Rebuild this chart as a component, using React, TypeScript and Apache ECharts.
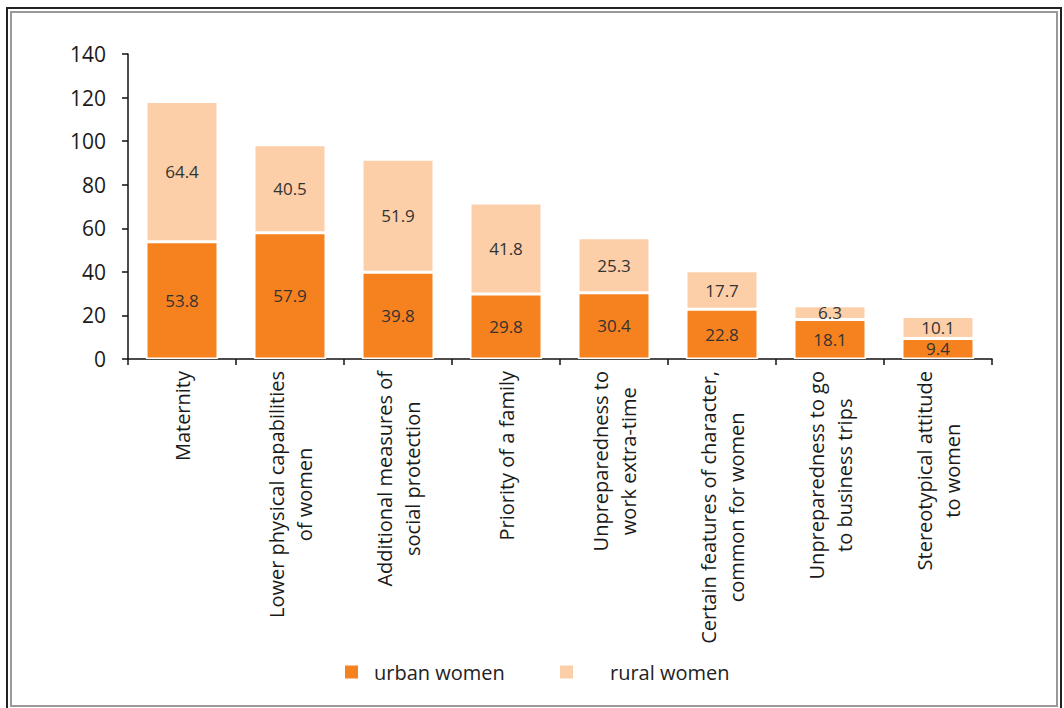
import React, { useEffect, useRef } from "react";
import * as echarts from "echarts";

const categories = [
  "Maternity",
  "Lower physical capabilities\nof women",
  "Additional measures of\nsocial protection",
  "Priority of a family",
  "Unpreparedness to\nwork extra-time",
  "Certain features of character,\ncommon for women",
  "Unpreparedness to go\nto business trips",
  "Stereotypical attitude\nto women",
];
const urbanWomen = [53.8, 57.9, 39.8, 29.8, 30.4, 22.8, 18.1, 9.4];
const ruralWomen = [64.4, 40.5, 51.9, 41.8, 25.3, 17.7, 6.3, 10.1];
const yTicks = [0, 20, 40, 60, 80, 100, 120, 140];

const FONT = "'Open Sans', 'Noto Sans', sans-serif";
const URBAN = "#F6821F";
const RURAL = "#FCCFA8";

export default function App() {
  const ref = useRef<HTMLDivElement>(null);
  useEffect(() => {
    document.body.style.margin = "0";
    const chart = echarts.init(ref.current!, undefined, { renderer: "svg" });
    chart.setOption({
      animation: false,
      backgroundColor: "#ffffff",
      textStyle: { fontFamily: FONT },
      grid: { left: 128, right: 72, top: 54, bottom: 349, containLabel: false },
      legend: [
        {
          data: ["urban women"],
          left: 338,
          top: 657,
          icon: "rect",
          itemWidth: 15,
          itemHeight: 15,
          textStyle: { fontSize: 20, color: "#222", fontFamily: FONT, padding: [0, 0, 0, 10] },
        },
        {
          data: ["rural women"],
          left: 553,
          top: 657,
          icon: "rect",
          itemWidth: 15,
          itemHeight: 15,
          textStyle: { fontSize: 20, color: "#222", fontFamily: FONT, padding: [0, 0, 0, 31] },
        },
      ],
      xAxis: {
        type: "category",
        data: categories,
        axisLine: { lineStyle: { color: "#111", width: 1.5 } },
        axisTick: { show: true, length: 6, lineStyle: { color: "#111", width: 1.5 } },
        axisLabel: {
          rotate: 90,
          margin: 12,
          interval: 0,
          formatter: (v: string) =>
            v
              .split("\n")
              .map((l) => `{c|${l}}`)
              .join("\n"),
          rich: {
            c: { align: "center", fontSize: 20, lineHeight: 28, color: "#1a1a1a", fontFamily: FONT },
          },
        },
      },
      yAxis: {
        type: "value",
        min: yTicks[0],
        max: yTicks[yTicks.length - 1],
        interval: 20,
        splitLine: { show: false },
        axisLine: { show: true, lineStyle: { color: "#111", width: 1.5 } },
        axisTick: { show: true, length: 6, lineStyle: { color: "#111", width: 1.5 } },
        axisLabel: { fontSize: 21, color: "#1a1a1a", margin: 22, fontFamily: FONT },
      },
      series: [
        {
          name: "urban women",
          type: "bar",
          stack: "total",
          data: urbanWomen,
          barWidth: 72,
          itemStyle: { color: URBAN, borderColor: "#ffffff", borderWidth: 1.5 },
          label: {
            show: true,
            position: "inside",
            fontSize: 17,
            color: "#333",
            fontFamily: FONT,
            formatter: (p: any) => String(p.value),
          },
        },
        {
          name: "rural women",
          type: "bar",
          stack: "total",
          data: ruralWomen,
          barWidth: 72,
          itemStyle: { color: RURAL, borderColor: "#ffffff", borderWidth: 1.5 },
          label: {
            show: true,
            position: "inside",
            fontSize: 17,
            color: "#333",
            fontFamily: FONT,
            formatter: (p: any) => String(p.value),
          },
        },
      ],
      graphic: [
        {
          type: "rect",
          shape: { x: 7, y: 8, width: 1054, height: 702 },
          style: { fill: "none", stroke: "#222", lineWidth: 2 },
          silent: true,
        },
        {
          type: "rect",
          shape: { x: 11, y: 12, width: 1046, height: 694 },
          style: { fill: "none", stroke: "#999", lineWidth: 2 },
          silent: true,
        },
      ],
    });
    return () => chart.dispose();
  }, []);
  return <div ref={ref} style={{ width: 1064, height: 708 }} />;
}
